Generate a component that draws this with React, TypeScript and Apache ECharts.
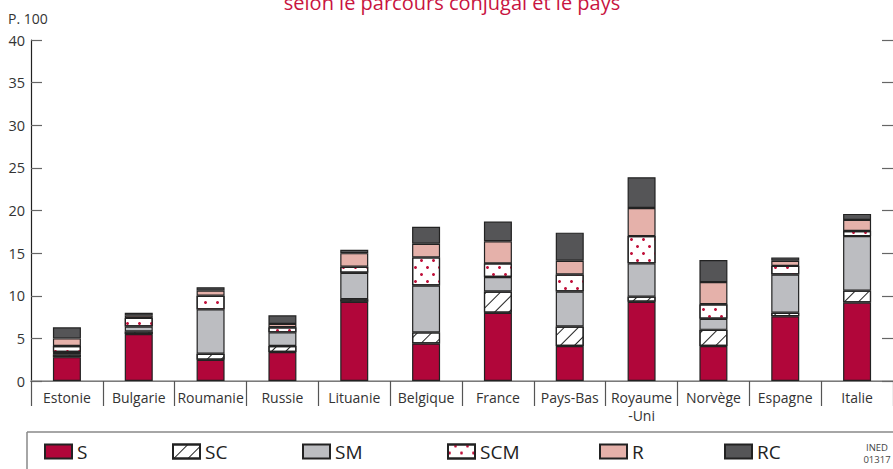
import React, { useEffect, useRef } from "react";
import * as echarts from "echarts";

const categories = [
  "Estonie", "Bulgarie", "Roumanie", "Russie", "Lituanie", "Belgique",
  "France", "Pays-Bas", "Royaume\n-Uni", "Norvège", "Espagne", "Italie",
];

const seriesNames = ["S", "SC", "SM", "SCM", "R", "RC"];

const valuesS = [2.8, 5.5, 2.5, 3.4, 9.3, 4.4, 8.0, 4.1, 9.3, 4.1, 7.6, 9.2];
const valuesSC = [0.3, 0.3, 0.7, 0.7, 0.3, 1.3, 2.5, 2.3, 0.6, 1.9, 0.4, 1.4];
const valuesSM = [0.3, 0.6, 5.2, 1.6, 3.1, 5.5, 1.7, 4.1, 3.9, 1.3, 4.5, 6.4];
const valuesSCM = [0.7, 1.0, 1.6, 0.6, 0.7, 3.3, 1.6, 2.0, 3.2, 1.7, 1.0, 0.6];
const valuesR = [0.9, 0.3, 0.6, 0.4, 1.6, 1.6, 2.6, 1.6, 3.3, 2.6, 0.6, 1.3];
const valuesRC = [1.3, 0.3, 0.4, 1.0, 0.4, 2.0, 2.3, 3.3, 3.6, 2.6, 0.4, 0.7];

const yTicks = [0, 5, 10, 15, 20, 25, 30, 35, 40];

const titleText = "selon le parcours conjugal et le pays";
const unitText = "P. 100";
const sourceLines = ["INED", "01317"];

const FONT = "'Open Sans', 'Noto Sans', sans-serif";
const BORDER = "#222";
const CRIMSON = "#b1063a";

const legendLeft = [44, 172, 302, 447, 599, 724];

const hatchDecal = {
  symbol: "rect",
  color: "#222",
  backgroundColor: "#ffffff",
  dashArrayX: [1, 0],
  dashArrayY: [1, 9],
  rotation: -Math.PI / 4,
};

const dotDecal = {
  symbol: "circle",
  color: "#c0103a",
  backgroundColor: "#ffffff",
  symbolSize: 1,
  dashArrayX: [[3, 9], [0, 6, 3, 3]],
  dashArrayY: [3, 4],
};

const seriesStyles: any[] = [
  { color: CRIMSON },
  { color: "#ffffff", decal: hatchDecal },
  { color: "#bcbdc1" },
  { color: "#ffffff", decal: dotDecal },
  { color: "#e5b1aa" },
  { color: "#555557" },
];

const seriesValues = [valuesS, valuesSC, valuesSM, valuesSCM, valuesR, valuesRC];

export default function App() {
  const ref = useRef<HTMLDivElement>(null);

  useEffect(() => {
    if (!ref.current) return;
    const chart = echarts.init(ref.current, null, { renderer: "svg" });

    const option: any = {
      animation: false,
      backgroundColor: "#ffffff",
      textStyle: { fontFamily: FONT },
      grid: { left: 31, top: 40, width: 864, height: 341, containLabel: false },
      xAxis: [
        {
          type: "category",
          data: categories,
          position: "bottom",
          axisLine: { show: true, lineStyle: { color: "#222", width: 1.2 } },
          axisTick: {
            show: true,
            interval: 0,
            length: 25,
            lineStyle: { color: "#555", width: 1.2 },
          },
          axisLabel: {
            interval: 0,
            fontSize: 14,
            color: "#333",
            margin: 7,
            lineHeight: 18,
            fontFamily: FONT,
          },
        },
        {
          type: "category",
          data: categories,
          position: "top",
          axisLine: { show: true, lineStyle: { color: "#999", width: 1.5 } },
          axisTick: { show: false },
          axisLabel: { show: false },
        },
      ],
      yAxis: [
        {
          type: "value",
          min: yTicks[0],
          max: yTicks[yTicks.length - 1],
          interval: 5,
          position: "left",
          axisLine: { show: true, lineStyle: { color: "#222", width: 1.2 } },
          axisTick: { show: true, inside: true, length: 11, lineStyle: { color: "#666", width: 1.2 } },
          axisLabel: { fontSize: 14.5, color: "#333", margin: 6, fontFamily: FONT },
          splitLine: { show: false },
        },
        {
          type: "value",
          min: yTicks[0],
          max: yTicks[yTicks.length - 1],
          interval: 5,
          position: "right",
          axisLine: { show: false },
          axisTick: { show: true, inside: true, length: 11, lineStyle: { color: "#666", width: 1.2 } },
          axisLabel: { show: false },
          splitLine: { show: false },
        },
      ],
      legend: seriesNames.map((name, i) => ({
        data: [name],
        left: legendLeft[i],
        top: 442,
        padding: 0,
        icon: "rect",
        itemWidth: 27,
        itemHeight: 14,
        itemGap: 0,
        selectedMode: false,
        textStyle: { fontSize: 19, color: "#222", fontFamily: FONT },
      })),
      series: seriesNames.map((name, i) => ({
        name,
        type: "bar",
        stack: "total",
        barWidth: 28,
        data: seriesValues[i],
        itemStyle: {
          ...seriesStyles[i],
          borderColor: BORDER,
          borderWidth: 1.2,
        },
        emphasis: { disabled: true },
      })),
      graphic: [
        {
          type: "text",
          x: 452,
          y: 12,
          style: {
            text: titleText,
            fill: "#c8143f",
            fontSize: 20,
            fontFamily: FONT,
            align: "center",
            verticalAlign: "bottom",
          },
        },
        {
          type: "text",
          left: 8,
          top: 11,
          style: { text: unitText, fill: "#333", fontSize: 14, fontFamily: FONT },
        },
        {
          type: "line",
          shape: { x1: 27, y1: 432, x2: 893, y2: 432 },
          style: { stroke: "#888", lineWidth: 1.5 },
        },
        {
          type: "line",
          shape: { x1: 27, y1: 432, x2: 27, y2: 469 },
          style: { stroke: "#888", lineWidth: 1.5 },
        },
        ...sourceLines.map((t, i) => ({
          type: "text",
          x: 877,
          y: 447 + i * 12,
          style: {
            text: t,
            fill: "#444",
            fontSize: 9.5,
            lineHeight: 11,
            align: "center",
            verticalAlign: "middle",
            fontFamily: FONT,
          },
        })),
      ],
    };

    chart.setOption(option);
    return () => chart.dispose();
  }, []);

  return (
    <div
      ref={ref}
      style={{ position: "fixed", left: 0, top: 0, width: 893, height: 469 }}
    />
  );
}
